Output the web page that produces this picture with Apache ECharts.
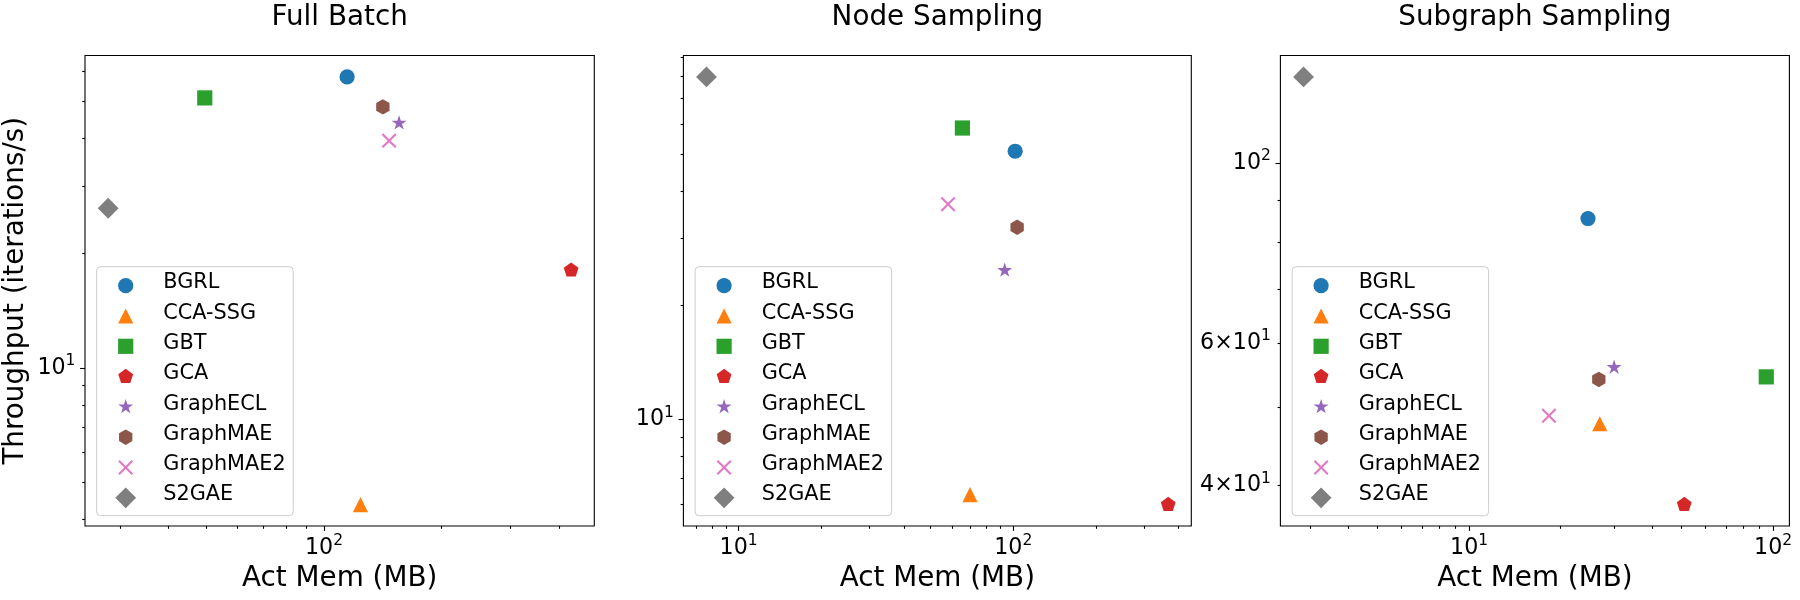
<!DOCTYPE html>
<html><head><meta charset="utf-8">
<script src="https://cdn.jsdelivr.net/npm/echarts@6/dist/echarts.min.js"></script>
<style>html,body{margin:0;padding:0;background:#fff}#c{width:1800px;height:600px}</style>
</head><body><div id="c"></div>
<script>
// ---- data ----
const methods = ['BGRL', 'CCA-SSG', 'GBT', 'GCA', 'GraphECL', 'GraphMAE', 'GraphMAE2', 'S2GAE'];
const colors = ['#1f77b4', '#ff7f0e', '#2ca02c', '#d62728', '#9467bd', '#8c564b', '#e377c2', '#7f7f7f'];
const panelTitles = ['Full Batch', 'Node Sampling', 'Subgraph Sampling'];
const fullBatchMem = [114.6, 124.0, 49.5, 429.5, 155.7, 141.5, 146.8, 28.0];
const fullBatchThroughput = [57.9, 4.38, 51.0, 18.03, 43.8, 48.3, 39.4, 26.2];
const nodeSamplingMem = [101.6, 69.6, 65.3, 366.6, 93.1, 103.3, 57.9, 7.64];
const nodeSamplingThroughput = [50.9, 6.34, 58.6, 5.97, 24.7, 32.1, 36.9, 79.9];
const subgraphMem = [24.6, 26.9, 94.9, 51.0, 29.98, 26.7, 18.3, 2.853];
const subgraphThroughput = [85.5, 47.7, 54.5, 37.9, 55.97, 54.1, 48.8, 127.9];
const xTickLabelValues = [[100], [10, 100], [10, 100]];
const yTickLabelValues = [[10], [10], [40, 60, 100]];
const xAxisName = 'Act Mem (MB)';
const yAxisName = 'Throughput (iterations/s)';

// ---- layout / style ----
const FONT = 'DejaVu Sans';
const gridLefts = [85, 683.4, 1280.4];
const gridWidths = [509.3, 507.9, 509];
const gridTop = 55.5, gridHeight = 470.5;
const panelMem = [fullBatchMem, nodeSamplingMem, subgraphMem];
const panelThr = [fullBatchThroughput, nodeSamplingThroughput, subgraphThroughput];

// marker geometry (pixels, around a centre)
function regPoly(n, R) {
  const pts = [];
  for (let k = 0; k < n; k++) { const a = 2 * Math.PI * k / n; pts.push([R * Math.sin(a), -R * Math.cos(a)]); }
  return pts;
}
function starPts(R, r) {
  const pts = [];
  for (let k = 0; k < 10; k++) { const a = Math.PI * k / 5, rr = k % 2 ? r : R; pts.push([rr * Math.sin(a), -rr * Math.cos(a)]); }
  return pts;
}
function xPts(a, h) {
  const k = h / Math.SQRT2, c = h * Math.SQRT2;
  return [[0, -c], [a - k, -a - k], [a + k, -a + k], [c, 0], [a + k, a - k], [a - k, a + k], [0, c],
    [-a + k, a + k], [-a - k, a - k], [-c, 0], [-a - k, -a + k], [-a + k, -a - k]];
}
const shapeDefs = [
  { circle: 7.6 },
  { pts: [[0, -7.6], [7.6, 7.6], [-7.6, 7.6]] },
  { pts: [[-7.6, -7.6], [7.6, -7.6], [7.6, 7.6], [-7.6, 7.6]] },
  { pts: regPoly(5, 7.8) },
  { pts: starPts(7.9, 7.9 * 0.381966) },
  { pts: regPoly(6, 7.7) },
  { pts: xPts(6.7, 1.04) },
  { pts: [[0, -10.4], [10.4, 0], [0, 10.4], [-10.4, 0]] }
];
function shapePath(i, cx, cy) {
  const d = shapeDefs[i];
  const n = v => v.toFixed(2);
  if (d.circle) {
    const r = d.circle;
    return 'M' + n(cx - r) + ' ' + n(cy) + ' A' + r + ' ' + r + ' 0 1 0 ' + n(cx + r) + ' ' + n(cy) +
      ' A' + r + ' ' + r + ' 0 1 0 ' + n(cx - r) + ' ' + n(cy) + ' Z';
  }
  return 'M' + d.pts.map(p => n(cx + p[0]) + ' ' + n(cy + p[1])).join(' L') + ' Z';
}
// frame corner points fix the symbol's scale
const symbols = methods.map((m, i) => 'path://M0 0 M22 22 ' + shapePath(i, 11, 11));
const LEG_W = 54.6, LEG_H = 26.4;
const legendIcons = methods.map((m, i) => 'path://M0 0 M' + LEG_W + ' ' + LEG_H + ' ' + shapePath(i, 22, 15.9));

function logLimits(arr) {
  const l = arr.map(v => Math.log10(v));
  const lo = Math.min(...l), hi = Math.max(...l), r = hi - lo;
  return [Math.pow(10, lo - 0.05 * r), Math.pow(10, hi + 0.05 * r)];
}
function majorTicks(lim) {
  const out = [];
  for (let e = Math.floor(Math.log10(lim[0])); e <= Math.ceil(Math.log10(lim[1])); e++) {
    const v = Math.pow(10, e); if (v >= lim[0] && v <= lim[1]) out.push(v);
  }
  return out;
}
function minorTicks(lim) {
  const out = [];
  for (let e = Math.floor(Math.log10(lim[0])); e <= Math.ceil(Math.log10(lim[1])); e++) {
    for (let m = 2; m <= 9; m++) { const v = m * Math.pow(10, e); if (v > lim[0] && v < lim[1]) out.push(v); }
  }
  return out;
}
function fmt(v) {
  const e = Math.floor(Math.log10(v) + 1e-9);
  const m = Math.round(v / Math.pow(10, e));
  return m === 1 ? '{b|10}{s|' + e + '}' : '{b|' + m + '\u00d710}{s|' + e + '}';
}
const LBL = 22.2;
const rich = {
  b: { fontFamily: FONT, fontSize: LBL, lineHeight: 30, color: '#000' },
  s: { fontFamily: FONT, fontSize: LBL * 0.7, lineHeight: LBL * 0.7, verticalAlign: 'top', color: '#000' }
};
const tickLine = { color: '#000', width: 1.1 };

const grid = [], xAxis = [], yAxis = [], series = [], legend = [], title = [];
for (let p = 0; p < 3; p++) {
  const xl = logLimits(panelMem[p]), yl = logLimits(panelThr[p]);
  grid.push({ left: gridLefts[p], top: gridTop, width: gridWidths[p], height: gridHeight,
    show: true, borderColor: '#000', borderWidth: 1.1, backgroundColor: 'transparent', outerBoundsMode: 'none' });
  title.push({ text: panelTitles[p], left: gridLefts[p] + gridWidths[p] / 2, top: 4, padding: 0, textAlign: 'center',
    textStyle: { fontFamily: FONT, fontSize: 27.8, fontWeight: 'normal', color: '#000', lineHeight: 28 } });
  // major x
  xAxis.push({ type: 'log', gridIndex: p, position: 'bottom', min: xl[0], max: xl[1],
    axisLine: { show: false }, splitLine: { show: false },
    axisTick: { show: true, length: 4.9, lineStyle: tickLine, customValues: majorTicks(xl) },
    axisLabel: { show: true, margin: 7.3, customValues: xTickLabelValues[p], formatter: fmt, rich: rich },
    name: xAxisName, nameLocation: 'middle', nameGap: 38.8,
    nameTextStyle: { fontFamily: FONT, fontSize: 27.8, color: '#000', lineHeight: 28 } });
  // minor x
  xAxis.push({ type: 'log', gridIndex: p, position: 'bottom', min: xl[0], max: xl[1],
    axisLine: { show: false }, splitLine: { show: false }, axisLabel: { show: false },
    axisTick: { show: true, length: 2.8, lineStyle: tickLine, customValues: minorTicks(xl) } });
  const yName = p === 0 ? { name: yAxisName, nameLocation: 'middle', nameGap: 55, nameRotate: 90,
    nameTextStyle: { fontFamily: FONT, fontSize: 27.8, color: '#000', lineHeight: 28 } } : {};
  yAxis.push(Object.assign({ type: 'log', gridIndex: p, position: 'left', min: yl[0], max: yl[1],
    axisLine: { show: false }, splitLine: { show: false },
    axisTick: { show: true, length: 4.9, lineStyle: tickLine, customValues: majorTicks(yl) },
    axisLabel: { show: true, margin: 9.5, customValues: yTickLabelValues[p], formatter: fmt, rich: rich } }, yName));
  yAxis.push({ type: 'log', gridIndex: p, position: 'left', min: yl[0], max: yl[1],
    axisLine: { show: false }, splitLine: { show: false }, axisLabel: { show: false },
    axisTick: { show: true, length: 2.8, lineStyle: tickLine, customValues: minorTicks(yl) } });
  methods.forEach((m, i) => {
    series.push({ type: 'scatter', name: m, xAxisIndex: 2 * p, yAxisIndex: 2 * p, silent: true,
      data: [[panelMem[p][i], panelThr[p][i]]], symbol: symbols[i], symbolSize: 22,
      itemStyle: { color: colors[i], opacity: 1 }, z: 3 });
  });
  legend.push({ left: gridLefts[p] + 11.7, top: 266.7, orient: 'vertical', selectedMode: false,
    data: methods.map((m, i) => ({ name: m, icon: legendIcons[i], itemStyle: { color: colors[i] } })),
    itemWidth: LEG_W, itemHeight: LEG_H, itemGap: 3.9, padding: [3.1, 7.6, 7.4, 7], symbolKeepAspect: true,
    textStyle: { fontFamily: FONT, fontSize: 20.8, color: '#000', lineHeight: 22 },
    backgroundColor: 'rgba(255,255,255,0.8)', borderColor: '#cccccc', borderWidth: 1, borderRadius: 4 });
}

const chart = echarts.init(document.getElementById('c'), null, { renderer: 'canvas' });
chart.setOption({ animation: false, backgroundColor: '#fff', title, grid, xAxis, yAxis, legend, series });
</script></body></html>
